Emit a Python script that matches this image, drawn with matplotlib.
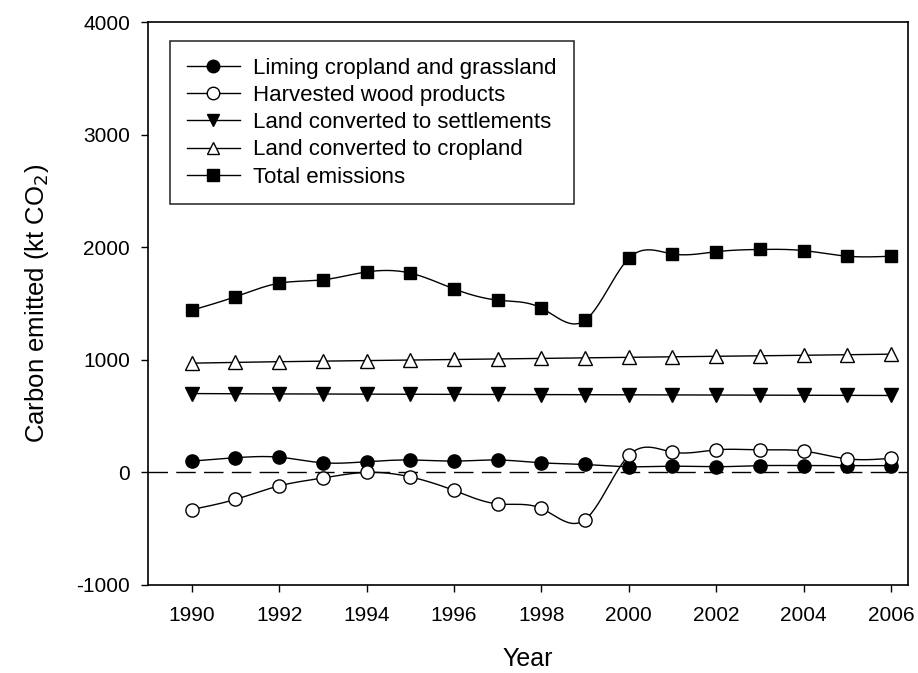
import matplotlib
matplotlib.use('Agg')
import matplotlib.pyplot as plt
import numpy as np

plt.rcParams['font.family'] = ['Liberation Sans', 'DejaVu Sans']
plt.rcParams['axes.unicode_minus'] = False

YEARS = list(range(1990, 2007))

LIMING = [100, 130, 135, 85, 95, 110, 100, 110, 85, 70,
          50, 55, 50, 60, 60, 60, 60]
HARVESTED = [-330, -240, -120, -50, 0, -40, -160, -280, -320, -420,
             150, 180, 200, 200, 190, 120, 125]
SETTLEMENTS = [700, 698, 697, 696, 695, 694, 693, 692, 691, 690,
               689, 688, 687, 686, 685, 684, 683]
CROPLAND = [970, 977, 983, 988, 993, 998, 1003, 1008, 1013, 1018,
            1022, 1027, 1032, 1036, 1040, 1045, 1050]
TOTAL = [1440, 1560, 1680, 1710, 1780, 1770, 1630, 1530, 1460, 1350,
         1900, 1940, 1960, 1980, 1970, 1920, 1920]

SERIES = [
    ('Liming cropland and grassland', LIMING, 'o', 'black', 9.5),
    ('Harvested wood products', HARVESTED, 'o', 'white', 9.5),
    ('Land converted to settlements', SETTLEMENTS, 'v', 'black', 9.5),
    ('Land converted to cropland', CROPLAND, '^', 'white', 9.5),
    ('Total emissions', TOTAL, 's', 'black', 8.5),
]


def natural_spline(x, y, n=400):
    """Natural cubic spline through the points, for the smooth connecting line."""
    x = np.asarray(x, float)
    y = np.asarray(y, float)
    k = len(x)
    h = np.diff(x)
    a = np.zeros((k, k))
    b = np.zeros(k)
    a[0, 0] = a[-1, -1] = 1
    for i in range(1, k - 1):
        a[i, i - 1] = h[i - 1]
        a[i, i] = 2 * (h[i - 1] + h[i])
        a[i, i + 1] = h[i]
        b[i] = 3 * ((y[i + 1] - y[i]) / h[i] - (y[i] - y[i - 1]) / h[i - 1])
    c = np.linalg.solve(a, b)
    xs = np.linspace(x[0], x[-1], n)
    idx = np.clip(np.searchsorted(x, xs) - 1, 0, k - 2)
    dx = xs - x[idx]
    bb = (y[idx + 1] - y[idx]) / h[idx] - h[idx] * (2 * c[idx] + c[idx + 1]) / 3
    d = (c[idx + 1] - c[idx]) / (3 * h[idx])
    ys = y[idx] + bb * dx + c[idx] * dx ** 2 + d * dx ** 3
    return xs, ys


fig = plt.figure(figsize=(9.18, 6.73), dpi=100)
ax = fig.add_axes([0.1612, 0.1308, 0.8279, 0.8365])

ax.axhline(0, color='black', lw=1, ls=(0, (14, 6)), zorder=1)

handles = []
for label, vals, marker, face, ms in SERIES:
    xs, ys = natural_spline(YEARS, vals)
    ax.plot(xs, ys, color='black', lw=1.0, zorder=2)
    ax.plot(YEARS, vals, ls='none', marker=marker, ms=ms,
            mfc=face, mec='black', mew=1.0, zorder=3)
    h, = ax.plot([], [], color='black', lw=1.0, marker=marker, ms=ms - 0.5,
                 mfc=face, mec='black', mew=1.0, label=label)
    handles.append(h)

ax.set_xlim(1989.0, 2006.39)
ax.set_ylim(-1000, 4000)
ax.set_xticks(range(1990, 2007, 2))
ax.set_yticks(range(-1000, 4001, 1000))
ax.tick_params(direction='out', length=5, width=1, labelsize=15,
               top=False, right=False)
ax.tick_params(axis='x', pad=10)
ax.tick_params(axis='y', pad=8)
for s in ax.spines.values():
    s.set_linewidth(1.2)

ax.set_xlabel('Year', fontsize=18)
ax.set_ylabel('Carbon emitted (kt CO$_2$)', fontsize=18.5)
ax.xaxis.set_label_coords(0.5, -0.11)
ax.yaxis.set_label_coords(-0.128, 0.5)

leg = ax.legend(handles=handles, loc='upper left', bbox_to_anchor=(0.029, 0.966),
                fontsize=16, frameon=True, fancybox=False, edgecolor='black',
                handlelength=2.4, handletextpad=0.6, labelspacing=0.28,
                borderpad=0.75, borderaxespad=0)
leg.get_frame().set_linewidth(1.2)

plt.savefig('out.png', dpi=100)
plt.close()
